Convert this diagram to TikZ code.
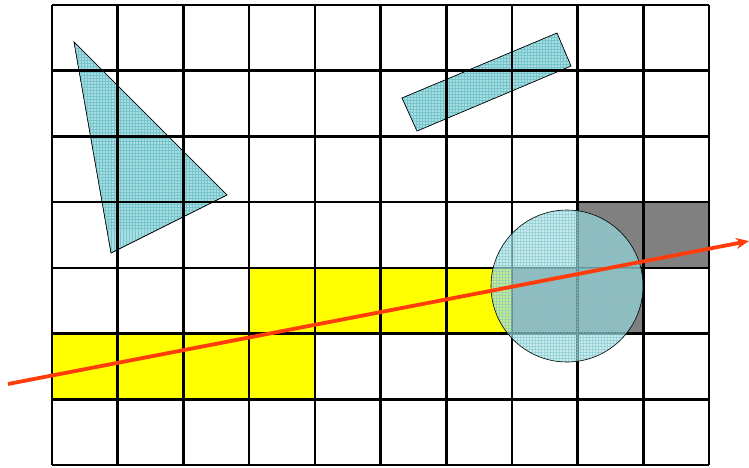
\documentclass[tikz,border=0pt]{standalone}
\usetikzlibrary{arrows.meta}
\definecolor{cyanfill}{RGB}{166,222,226}
\definecolor{cyanline}{RGB}{120,196,204}
\definecolor{redline}{RGB}{255,60,10}
\definecolor{grayfill}{RGB}{128,128,128}
\definecolor{pureyellow}{RGB}{255,255,0}
\tikzset{
  gridline/.style={line width=2.6pt, black},
  shapefill/.style={fill=cyanfill, draw=black, line width=0.5pt},
  hatch/.style={cyanline, line width=0.35pt},
  ray/.style={redline, line width=3.8pt, -{Stealth[length=13pt,width=11pt]}}
}
\begin{document}
\begin{tikzpicture}[x=1pt,y=-1pt]
\useasboundingbox (0,0) rectangle (749,467);
\fill[white] (0,0) rectangle (749,467);
\def\cw{65.7}
% yellow cells
\fill[pureyellow] (250,268) rectangle (513,333);
\fill[pureyellow] (52,333) rectangle (315,399);
% gray cells
\fill[grayfill] (578,202) rectangle (709,268);
\fill[grayfill] (513,268) rectangle (644,333);
% triangle
\path[shapefill] (74,42) -- (227,195) -- (111,253) -- cycle;
\begin{scope}
  \clip (74,42) -- (227,195) -- (111,253) -- cycle;
  \foreach \i in {0,3,...,200} {
    \draw[hatch] (60+\i,30) -- (60+\i,260);
    \draw[hatch] (60,30+\i) -- (240,30+\i);
  }
\end{scope}
\draw[black, line width=0.5pt] (74,42) -- (227,195) -- (111,253) -- cycle;
% rectangle
\path[shapefill] (402,98) -- (557,33) -- (571,66) -- (417,131) -- cycle;
\begin{scope}
  \clip (402,98) -- (557,33) -- (571,66) -- (417,131) -- cycle;
  \foreach \i in {0,3,...,180} {
    \draw[hatch] (395+\i,25) -- (395+\i,140);
  }
  \foreach \i in {0,3,...,120} {
    \draw[hatch] (395,25+\i) -- (580,25+\i);
  }
\end{scope}
\draw[black, line width=0.5pt] (402,98) -- (557,33) -- (571,66) -- (417,131) -- cycle;
% grid
\foreach \k in {0,...,10} {
  \draw[gridline] (52+\k*\cw,5) -- (52+\k*\cw,465);
}
\foreach \k in {0,...,7} {
  \draw[gridline] (52,5+\k*\cw) -- (709,5+\k*\cw);
}
% circle
\fill[cyanfill, fill opacity=0.62] (567,286) circle (76);
\begin{scope}
  \clip (567,286) circle (76);
  \foreach \i in {0,3,...,156} {
    \draw[hatch, opacity=0.5] (490+\i,205) -- (490+\i,365);
    \draw[hatch, opacity=0.5] (488,208+\i) -- (646,208+\i);
  }
\end{scope}
\draw[black, line width=0.6pt] (567,286) circle (76);
% ray
\coordinate (rs) at (8,384);
\coordinate (re) at (749,241);
\draw[ray] (rs) -- (re);
\end{tikzpicture}
\end{document}
